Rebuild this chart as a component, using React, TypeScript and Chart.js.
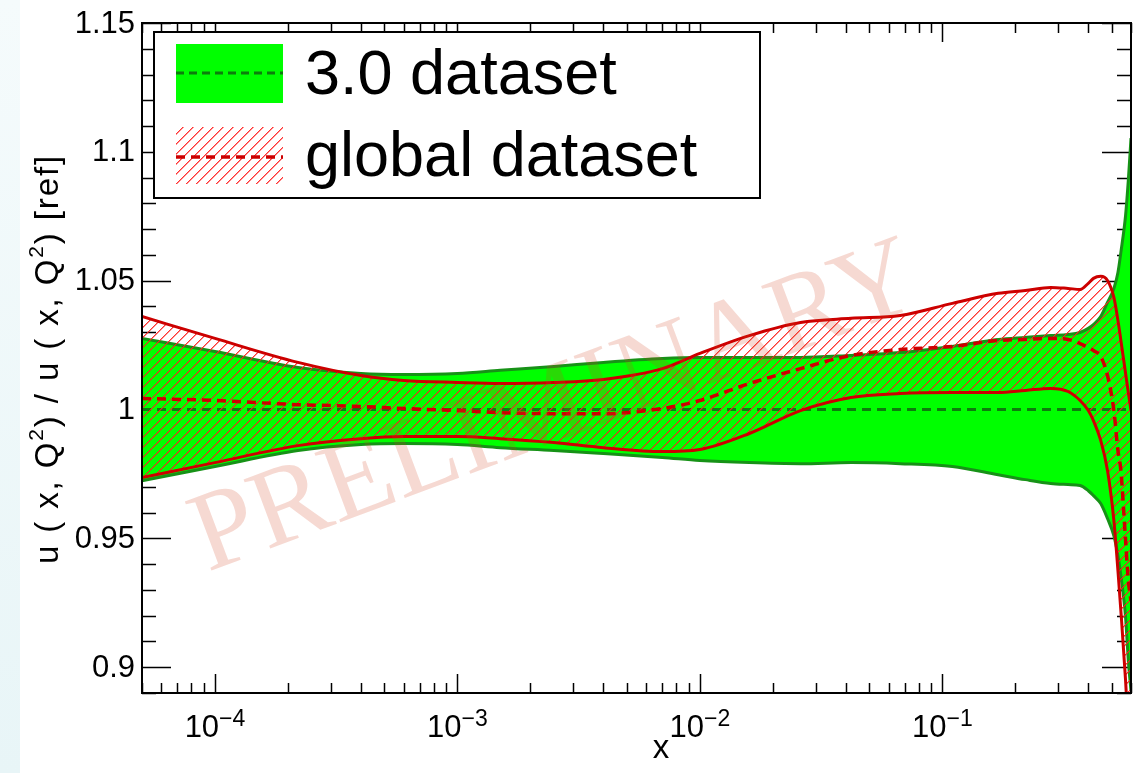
import React, { useEffect, useRef } from 'react';
import { Chart, registerables } from 'chart.js';

Chart.register(...registerables);

// Momentum fraction grid shared by all curves
const xValues = [
  5e-5, 1e-4, 2.2e-4, 4e-4, 6e-4, 1e-3, 1.5e-3, 2.5e-3, 4e-3, 7e-3, 1e-2,
  1.6e-2, 2.6e-2, 4.2e-2, 6.7e-2, 0.11, 0.17, 0.22, 0.28, 0.33, 0.37, 0.4,
  0.42, 0.45, 0.48, 0.51, 0.53, 0.545, 0.57, 0.585, 0.6,
];

// 3.0 dataset: central ratio and uncertainty envelope
const central30 = [
  1, 1, 1, 1, 1, 1, 1, 1, 1, 1, 1, 1, 1, 1, 1, 1, 1, 1, 1, 1, 1, 1, 1, 1, 1,
  1, 1, 1, 1, 1, 1,
];
const upper30 = [
  1.0276, 1.0225, 1.0163, 1.014, 1.0136, 1.014, 1.0152, 1.0167, 1.0183, 1.0198,
  1.0202, 1.0202, 1.0202, 1.021, 1.0221, 1.0245, 1.0272, 1.028, 1.0287, 1.0291,
  1.0299, 1.0315, 1.033, 1.0361, 1.0416, 1.047, 1.0532, 1.061, 1.0754, 1.089,
  1.1053,
];
const lower30 = [
  0.9724, 0.9779, 0.9841, 0.9864, 0.9868, 0.9864, 0.9852, 0.9841, 0.9829,
  0.9814, 0.9802, 0.9794, 0.979, 0.9794, 0.979, 0.9779, 0.9747, 0.9728, 0.9713,
  0.9709, 0.9705, 0.9685, 0.9666, 0.9635, 0.9577, 0.951, 0.9433, 0.9355,
  0.9192, 0.9025, 0.8908,
];

// global dataset: central ratio and uncertainty envelope
const centralGlobal = [
  1.0043, 1.0035, 1.0019, 1.0012, 1.0004, 0.9996, 0.9988, 0.9984, 0.9984,
  1.0004, 1.0035, 1.0101, 1.0159, 1.021, 1.0233, 1.0245, 1.0268, 1.0272,
  1.0276, 1.0272, 1.0256, 1.0241, 1.0229, 1.0206, 1.0132, 0.9996, 0.9841,
  0.9763, 0.9491, 0.9336, 0.9258,
];
const upperGlobal = [
  1.0361, 1.0276, 1.0183, 1.0132, 1.0113, 1.0105, 1.0101, 1.0105, 1.0117,
  1.0159, 1.0218, 1.0287, 1.0338, 1.0354, 1.0365, 1.0412, 1.0451, 1.0462,
  1.0474, 1.047, 1.0466, 1.049, 1.0509, 1.0517, 1.0501, 1.0435, 1.0346, 1.0268,
  1.014, 1.0066, 0.9996,
];
const lowerGlobal = [
  0.9736, 0.9794, 0.986, 0.9887, 0.9895, 0.9895, 0.9887, 0.9872, 0.9852,
  0.9837, 0.9845, 0.9907, 0.9996, 1.0047, 1.0062, 1.0066, 1.0066, 1.0074,
  1.0082, 1.007, 1.0035, 0.9996, 0.9957, 0.988, 0.9763, 0.9569, 0.9375, 0.9219,
  0.8947, 0.8753, 0.8559,
];

const legendLabels = ['3.0 dataset', 'global dataset'];
const yTickValues = [0.9, 0.95, 1, 1.05, 1.1, 1.15];
const yTickLabels = ['0.9', '0.95', '1', '1.05', '1.1', '1.15'];
const xTickDecades = [1e-4, 1e-3, 1e-2, 1e-1];
const xTickExponents = ['\u22124', '\u22123', '\u22122', '\u22121'];

const X_MIN = 5e-5;
const X_MAX = 0.6;
const Y_MIN = 0.89;
const Y_MAX = 1.15;

const GREEN_FILL = '#00ff00';
const GREEN_EDGE = '#179217';
const GREEN_DASH = '#0d7d0d';
const RED = '#cc0000';
const SANS = '"Liberation Sans", Arial, Helvetica, sans-serif';
const SERIF = '"Liberation Serif", "Times New Roman", serif';

// 45-degree red hatching tile, drawn pixel by pixel (core plus soft edge)
function makeHatch(ctx: CanvasRenderingContext2D): CanvasPattern {
  const c = document.createElement('canvas');
  c.width = 10;
  c.height = 10;
  const g = c.getContext('2d')!;
  for (let i = 0; i < 10; i++) {
    g.fillStyle = 'rgba(255,30,30,0.9)';
    g.fillRect(i, 9 - i, 1, 1);
    g.fillStyle = 'rgba(255,30,30,0.5)';
    g.fillRect((i + 1) % 10, 9 - i, 1, 1);
  }
  return ctx.createPattern(c, 'repeat')!;
}

function points(ys: number[]) {
  return xValues.map((x, i) => ({ x, y: ys[i] }));
}

export default function App() {
  const ref = useRef<HTMLCanvasElement>(null);

  useEffect(() => {
    const canvas = ref.current!;
    const ctx = canvas.getContext('2d')!;
    const hatch = makeHatch(ctx);

    const framePlugin = {
      id: 'rootFrame',
      beforeDraw(chart: any) {
        const c = chart.ctx as CanvasRenderingContext2D;
        c.save();
        c.fillStyle = '#ffffff';
        c.fillRect(0, 0, chart.width, chart.height);
        const grad = c.createLinearGradient(0, 0, 0, chart.height);
        grad.addColorStop(0, '#f5fbfc');
        grad.addColorStop(1, '#e8f5f7');
        c.fillStyle = grad;
        c.fillRect(0, 0, 20, chart.height);
        c.restore();
      },
      beforeDatasetsDraw(chart: any) {
        // inward ticks on all four sides
        const c = chart.ctx as CanvasRenderingContext2D;
        const a = chart.chartArea;
        const xs = chart.scales.x;
        const ys = chart.scales.y;
        c.save();
        c.strokeStyle = '#000';
        c.lineWidth = 1.5;
        c.beginPath();
        for (let d = -5; d <= 0; d++) {
          for (let m = 1; m <= 9; m++) {
            const v = m * Math.pow(10, d);
            if (v < X_MIN * 0.999 || v > X_MAX * 1.001) continue;
            const px = Math.round(xs.getPixelForValue(v)) + 0.5;
            const len = m === 1 ? 19 : 10;
            c.moveTo(px, a.bottom);
            c.lineTo(px, a.bottom - len);
            c.moveTo(px, a.top);
            c.lineTo(px, a.top + len);
          }
        }
        for (let k = 89; k <= 115; k++) {
          const py = Math.round(ys.getPixelForValue(k / 100)) + 0.5;
          const len = k % 5 === 0 ? 29 : 14;
          c.moveTo(a.left, py);
          c.lineTo(a.left + len, py);
          c.moveTo(a.right, py);
          c.lineTo(a.right - len, py);
        }
        c.stroke();
        c.restore();
      },
      afterDatasetsDraw(chart: any) {
        const c = chart.ctx as CanvasRenderingContext2D;
        const a = chart.chartArea;
        c.save();
        c.strokeStyle = '#000';
        c.lineWidth = 2;
        c.strokeRect(a.left, a.top, a.right - a.left, a.bottom - a.top);

        // watermark
        c.save();
        c.translate(556, 410);
        c.rotate((-20.5 * Math.PI) / 180);
        c.font = `113px ${SERIF}`;
        c.textAlign = 'center';
        c.textBaseline = 'middle';
        c.fillStyle = 'rgba(208,64,32,0.2)';
        c.fillText('PRELIMINARY', 0, 0);
        c.restore();

        // legend
        c.fillStyle = '#fff';
        c.fillRect(154, 32, 606, 166);
        c.lineWidth = 2;
        c.strokeStyle = '#000';
        c.strokeRect(154, 32, 606, 166);

        c.fillStyle = GREEN_FILL;
        c.fillRect(176, 44, 107, 59);
        c.strokeStyle = GREEN_DASH;
        c.lineWidth = 3;
        c.setLineDash([8, 5]);
        c.beginPath();
        c.moveTo(176, 73);
        c.lineTo(283, 73);
        c.stroke();

        c.setLineDash([]);
        c.fillStyle = hatch;
        c.fillRect(176, 127, 107, 57);
        c.strokeStyle = RED;
        c.lineWidth = 3.5;
        c.setLineDash([9, 6]);
        c.beginPath();
        c.moveTo(176, 157);
        c.lineTo(283, 157);
        c.stroke();
        c.setLineDash([]);

        c.fillStyle = '#000';
        c.font = `63px ${SANS}`;
        c.textAlign = 'left';
        c.textBaseline = 'alphabetic';
        c.fillText(legendLabels[0], 305, 94);
        c.fillText(legendLabels[1], 305, 176);
        c.restore();
      },
      afterDraw(chart: any) {
        const c = chart.ctx as CanvasRenderingContext2D;
        const a = chart.chartArea;
        const xs = chart.scales.x;
        const ys = chart.scales.y;
        c.save();
        c.fillStyle = '#000';

        // y tick labels
        c.font = `31px ${SANS}`;
        c.textAlign = 'right';
        c.textBaseline = 'middle';
        yTickValues.forEach((v, i) => {
          c.fillText(yTickLabels[i], a.left - 7, ys.getPixelForValue(v) + 1);
        });

        // x tick labels: 10 with superscript exponent
        c.textAlign = 'left';
        c.textBaseline = 'alphabetic';
        xTickDecades.forEach((v, i) => {
          const px = xs.getPixelForValue(v);
          c.font = `31px ${SANS}`;
          const wBase = c.measureText('10').width;
          c.font = `23px ${SANS}`;
          const wExp = c.measureText(xTickExponents[i]).width;
          const start = px - (wBase + wExp) / 2;
          c.font = `31px ${SANS}`;
          c.fillText('10', start, 737);
          c.font = `23px ${SANS}`;
          c.fillText(xTickExponents[i], start + wBase, 726);
        });

        // x axis title
        c.font = `33px ${SANS}`;
        c.textAlign = 'center';
        c.fillText('x', 661, 758);

        // y axis title, rotated
        const parts = [
          { t: 'u ( x, Q', sup: false },
          { t: '2', sup: true },
          { t: ') / u ( x, Q', sup: false },
          { t: '2', sup: true },
          { t: ') [ref]', sup: false },
        ];
        const mainFont = `33px ${SANS}`;
        const supFont = `21px ${SANS}`;
        let natural = 0;
        let nChars = 0;
        parts.forEach((p) => {
          c.font = p.sup ? supFont : mainFont;
          natural += c.measureText(p.t).width;
          nChars += p.t.length;
        });
        const target = 410;
        const extra = (target - natural) / nChars;
        c.save();
        c.translate(58, 359);
        c.rotate(-Math.PI / 2);
        c.textAlign = 'left';
        let cursor = -target / 2;
        parts.forEach((p) => {
          c.font = p.sup ? supFont : mainFont;
          for (const ch of p.t) {
            c.fillText(ch, cursor, p.sup ? -15 : 0);
            cursor += c.measureText(ch).width + extra;
          }
        });
        c.restore();
        c.restore();
      },
    };

    const chart = new Chart(ctx, {
      type: 'line',
      data: {
        datasets: [
          {
            label: 'global central',
            data: points(centralGlobal),
            borderColor: RED,
            borderWidth: 3.5,
            borderDash: [9, 6],
            fill: false,
          },
          {
            label: 'global upper',
            data: points(upperGlobal),
            borderColor: RED,
            borderWidth: 3,
            fill: false,
          },
          {
            label: 'global lower',
            data: points(lowerGlobal),
            borderColor: RED,
            borderWidth: 3,
            backgroundColor: hatch,
            fill: 1,
          },
          {
            label: '3.0 central',
            data: points(central30),
            borderColor: GREEN_DASH,
            borderWidth: 3,
            borderDash: [9, 6],
            fill: false,
          },
          {
            label: '3.0 lower',
            data: points(lower30),
            borderColor: GREEN_EDGE,
            borderWidth: 3,
            fill: false,
          },
          {
            label: '3.0 upper',
            data: points(upper30),
            borderColor: GREEN_EDGE,
            borderWidth: 3,
            backgroundColor: GREEN_FILL,
            fill: 4,
          },
        ],
      },
      options: {
        responsive: false,
        animation: false,
        events: [],
        layout: { padding: { left: 142, top: 23, right: 17, bottom: 80 } },
        scales: {
          x: { type: 'logarithmic', min: X_MIN, max: X_MAX, display: false },
          y: { type: 'linear', min: Y_MIN, max: Y_MAX, display: false },
        },
        elements: {
          point: { radius: 0, hoverRadius: 0 },
          line: { cubicInterpolationMode: 'monotone' },
        },
        plugins: {
          legend: { display: false },
          tooltip: { enabled: false },
        },
      },
      plugins: [framePlugin],
    } as any);

    return () => chart.destroy();
  }, []);

  return (
    <div style={{ position: 'absolute', left: 0, top: 0, width: 1148, height: 773 }}>
      <canvas ref={ref} width={1148} height={773} style={{ display: 'block' }} />
    </div>
  );
}
